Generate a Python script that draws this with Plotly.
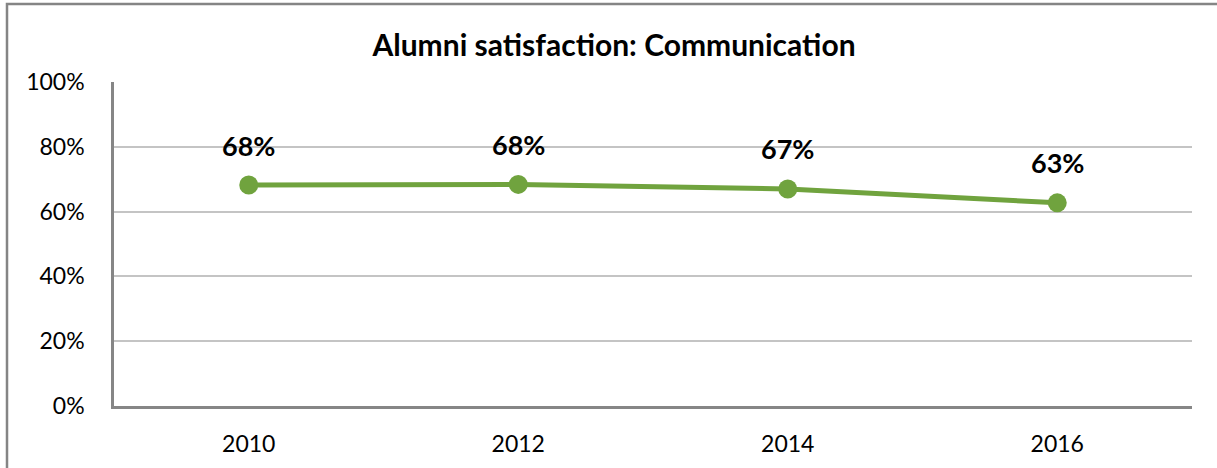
import plotly.graph_objects as go

years = ["2010", "2012", "2014", "2016"]
satisfaction = [0.682, 0.684, 0.670, 0.627]
y_ticks = [0, 0.2, 0.4, 0.6, 0.8, 1.0]
y_tick_labels = ["0%", "20%", "40%", "60%", "80%", "100%"]
title_text = "Alumni satisfaction: Communication"

FONT = "Lato, Carlito, Calibri, sans-serif"
GREEN = "#70A33E"

fig = go.Figure()
fig.add_trace(go.Scatter(
    x=years, y=satisfaction, mode="lines+markers",
    line=dict(color=GREEN, width=5),
    marker=dict(color=GREEN, size=19),
    hoverinfo="skip", showlegend=False,
))

for i, v in enumerate(satisfaction):
    fig.add_annotation(
        x=i, y=v, xref="x", yref="y", text=f"<b>{v:.0%}</b>", showarrow=False,
        yshift=40, font=dict(family=FONT, size=27, color="#000000"),
    )

L, R, T, B = 114, 25, 82, 62
W, H = 1217, 468
pw, ph = W - L - R, H - T - B

# outer chart border (top and left edges visible in reference)
x0 = (7 - L) / pw
x1 = (W + 5 - L) / pw
y0 = -(H + 5 - T - ph) / ph
y1 = 1 + (T - 4) / ph
fig.add_shape(type="rect", xref="paper", yref="paper", x0=x0, x1=x1, y0=y0, y1=y1,
              line=dict(color="#858585", width=2.5), layer="below")

fig.update_layout(
    width=W, height=H,
    margin=dict(l=L, r=R, t=T, b=B),
    paper_bgcolor="white", plot_bgcolor="white",
    title=dict(text=f"<b>{title_text}</b>", x=614 / W, xanchor="center",
               y=1 - 45 / H, yanchor="middle",
               font=dict(family=FONT, size=30, color="#000000")),
    font=dict(family=FONT, color="#000000"),
)

fig.update_xaxes(
    type="category", range=[-0.5, 3.5],
    showline=True, linecolor="#868686", linewidth=2.5,
    showgrid=False, ticks="", ticklabelstandoff=16,
    tickfont=dict(family=FONT, size=23, color="#000000"),
)
fig.update_yaxes(
    range=[0, 1.0], tickvals=y_ticks, ticktext=y_tick_labels,
    showline=True, linecolor="#868686", linewidth=2.5,
    showgrid=True, gridcolor="#C4C4C4", gridwidth=2,
    zeroline=False, ticks="", ticklabelstandoff=22,
    tickfont=dict(family=FONT, size=23, color="#000000"),
)

fig.write_html("out.html", config={"displayModeBar": False},
               post_script="document.body.style.margin='0px';")
